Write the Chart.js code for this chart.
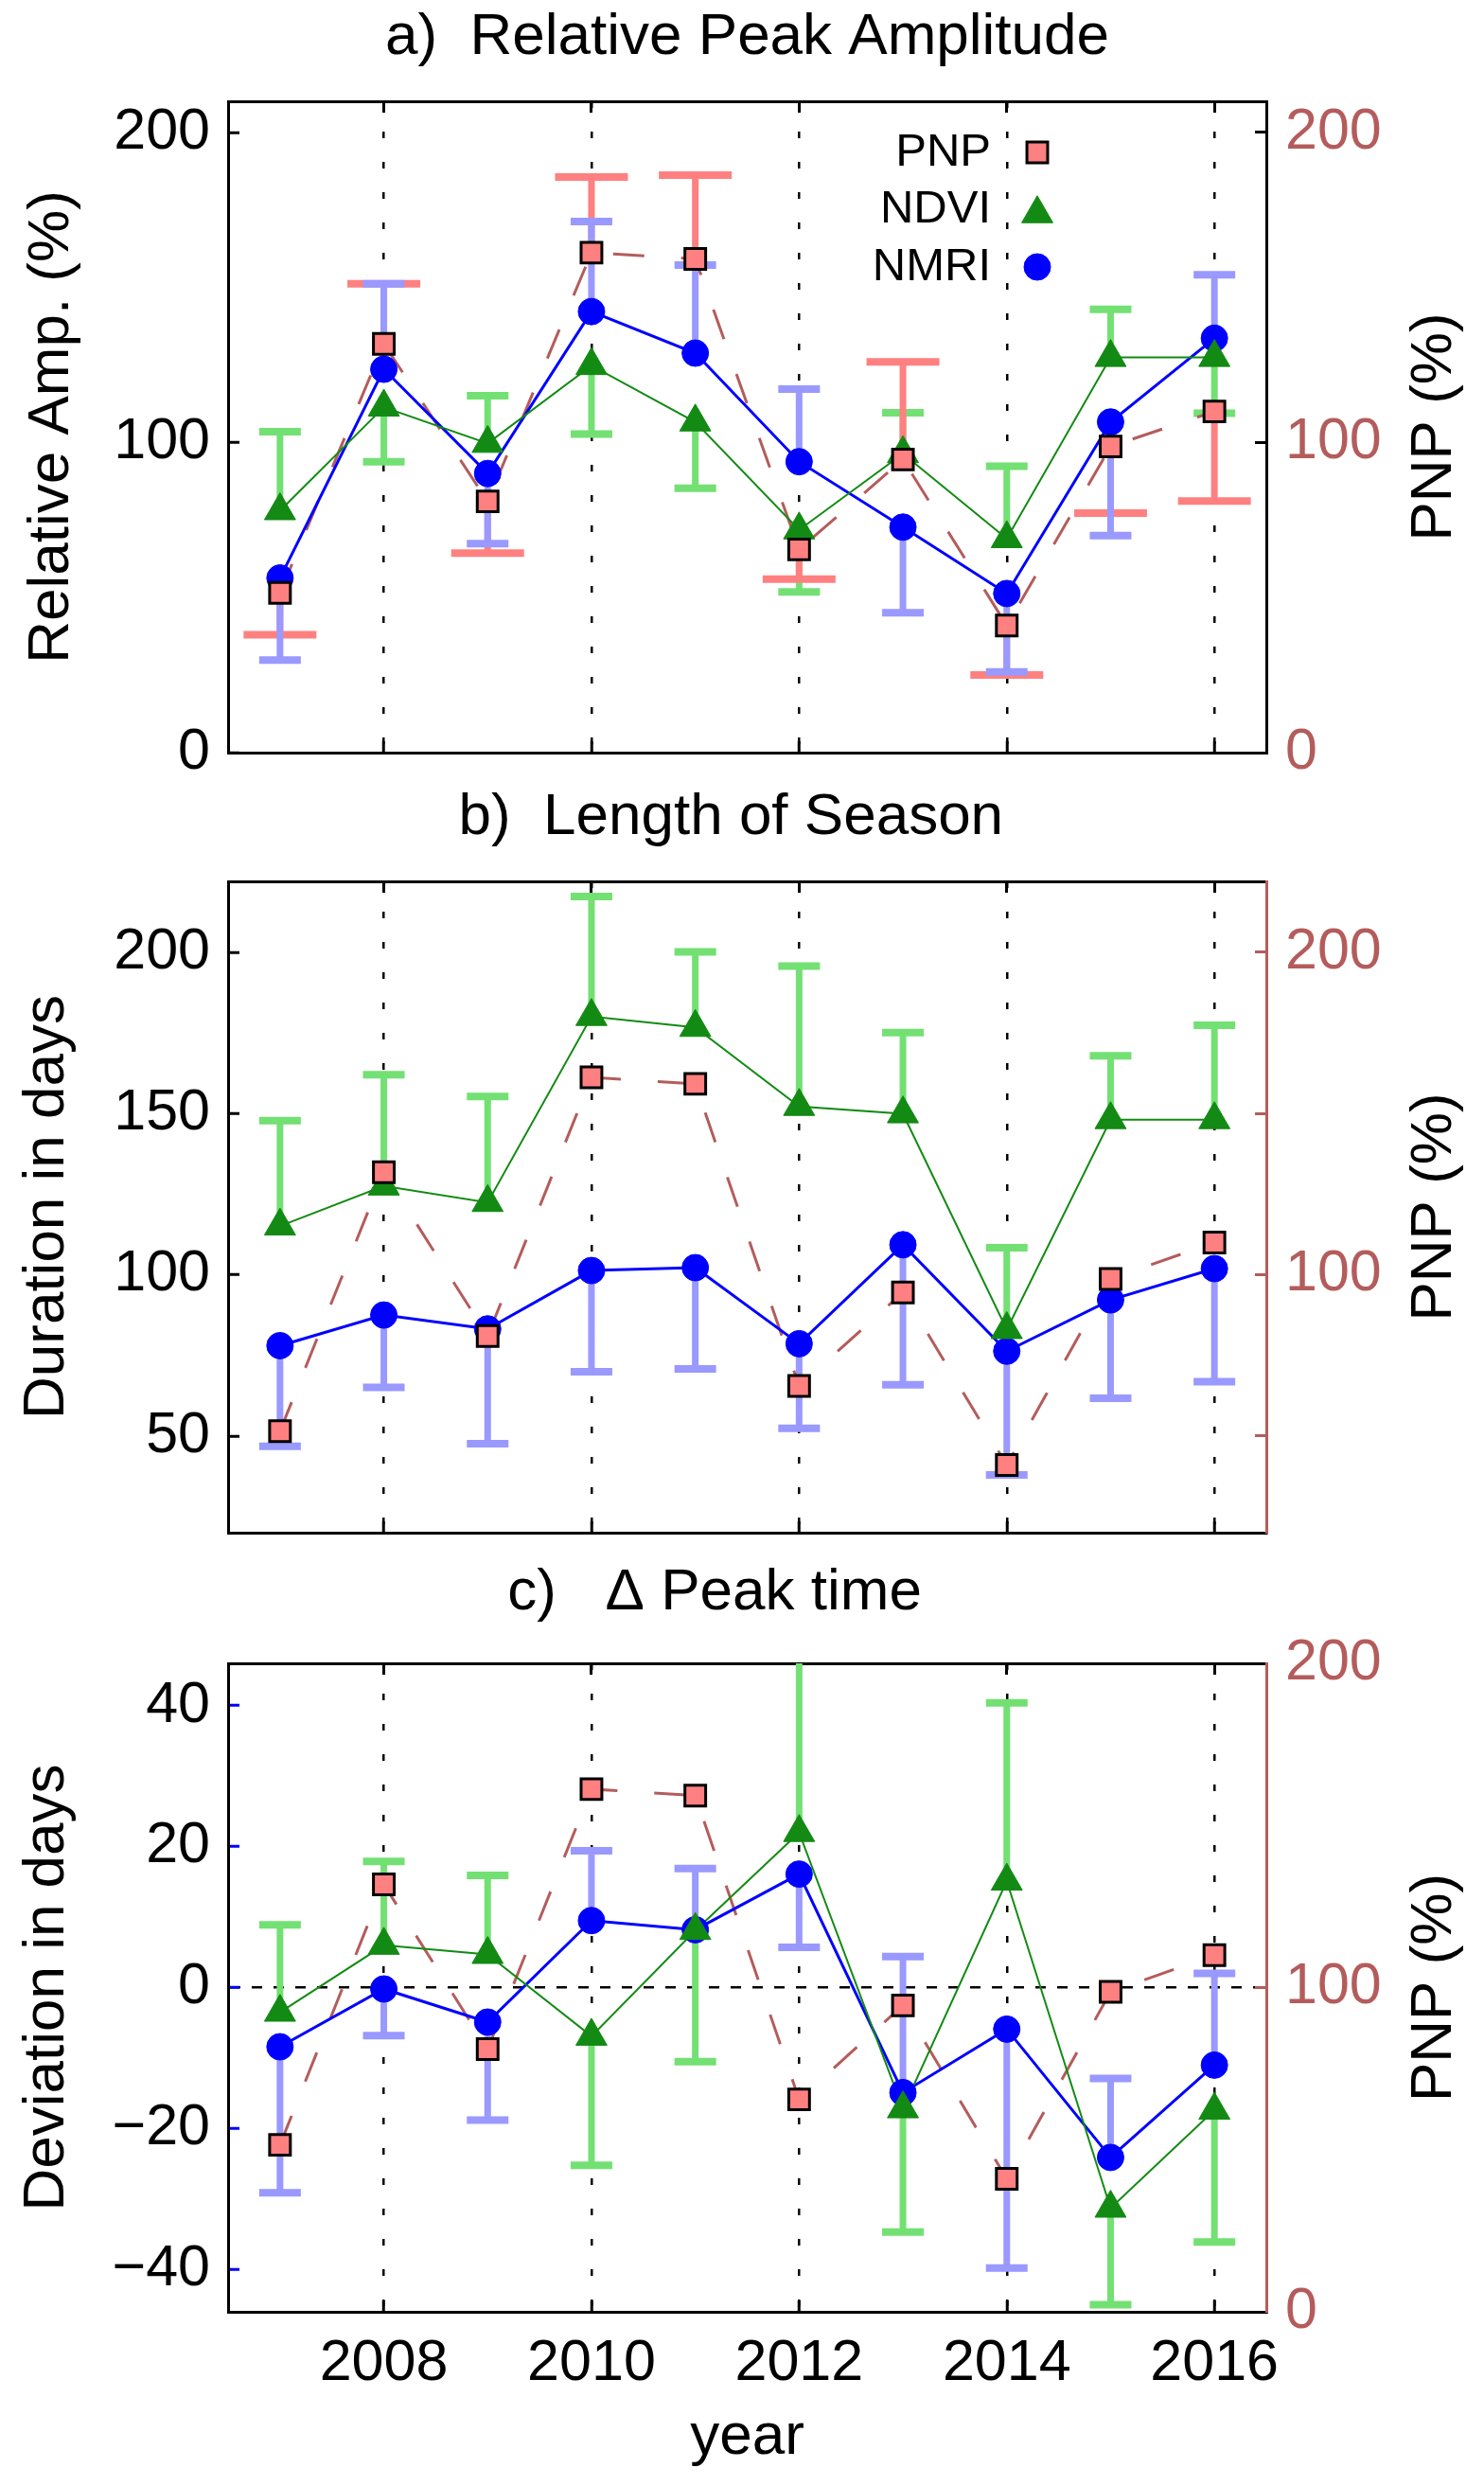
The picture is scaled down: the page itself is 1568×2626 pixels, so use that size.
<!DOCTYPE html>
<html>
<head>
<meta charset="utf-8">
<title>Peak amplitude, season length and peak time</title>
<script src="https://cdn.jsdelivr.net/npm/chart.js@4.4.1/dist/chart.umd.min.js"></script>
<style>
    html, body { margin: 0; padding: 0; background: #fff; }
    #wrap { position: relative; width: 1568px; height: 2626px; }
    canvas { position: absolute; left: 0; }
</style>
</head>
<body>
<div id="wrap">
    <canvas id="panelA" width="1568" height="826" style="top:0px"></canvas>
    <canvas id="panelB" width="1568" height="826" style="top:826px"></canvas>
    <canvas id="panelC" width="1568" height="974" style="top:1652px"></canvas>
</div>
<script>
// Years and x tick labels
const years = [2007, 2008, 2009, 2010, 2011, 2012, 2013, 2014, 2015, 2016];
const yearTicks = [2008, 2010, 2012, 2014, 2016];

// PNP (%) - same series in every panel, right axis
const pnp = [51.5, 131.8, 81.0, 161.2, 159.2, 65.5, 94.5, 41.0, 98.7, 110.0];
// one-sided error bar end points (panel a only)
const pnpErrA = [38.0, 151.2, 64.3, 185.6, 186.2, 55.9, 126.0, 25.0, 77.2, 81.1];

// a) Relative peak amplitude (%)
const amplNdvi = [78.0, 111.4, 99.7, 124.8, 106.6, 71.8, 96.4, 69.0, 127.4, 127.4];
const amplNdviErr = [103.5, 93.8, 115.1, 102.7, 85.2, 51.8, 109.6, 92.3, 142.9, 109.4];
const amplNmri = [56.3, 123.6, 90.0, 142.2, 128.8, 93.8, 72.7, 51.3, 106.6, 133.6];
const amplNmriErr = [29.8, 151.2, 67.4, 171.2, 157.2, 117.2, 45.1, 26.0, 70.0, 154.1];
const amplTicks = [0, 100, 200];
const amplPnpTicks = [0, 100, 200];

// b) Length of season (days)
const durNdvi = [115.1, 127.5, 122.4, 180.1, 176.7, 152.2, 149.9, 83.0, 148.1, 148.1];
const durNdviErr = [147.8, 162.0, 155.3, 217.3, 200.1, 195.7, 175.1, 108.4, 167.9, 177.4];
const durNmri = [78.0, 87.5, 83.2, 101.3, 102.2, 78.6, 109.3, 76.3, 92.2, 101.9];
const durNmriErr = [46.8, 65.1, 47.6, 69.9, 70.8, 52.4, 65.9, 37.9, 61.7, 66.8];
const durTicks = [50, 100, 150, 200];
const durPnpTicks = [50, 100, 150, 200];

// c) Delta peak time (days)
const devNdvi = [-3.5, 6.0, 4.7, -6.9, 8.1, 22.0, -17.2, 15.1, -31.3, -17.4];
const devNdviErr = [8.9, 17.9, 15.9, -25.2, -10.5, 55.0, -34.7, 40.4, -45.0, -36.1];
const devNmri = [-8.4, -0.2, -4.9, 9.5, 8.2, 16.1, -14.9, -5.9, -24.1, -11.0];
const devNmriErr = [-29.1, -6.8, -18.8, 19.4, 16.9, 5.7, 4.4, -39.8, -12.9, 2.0];
const devTicks = [-40, -20, 0, 20, 40];
const devPnpTicks = [0, 100, 200];

// Styling
const FONT = "'Liberation Sans', Arial, Helvetica, sans-serif";
const colors = {
    nmri: '#0000ff',
    nmriErr: '#9999ff',
    ndvi: '#138a13',
    ndviErr: '#73e073',
    pnpFill: '#ff8080',
    pnpErr: '#ff8080',
    pnpLine: '#b45c5c',
    pnpAxis: '#b45c5c'
};

Chart.defaults.font.family = FONT;
Chart.defaults.color = '#000';

// Helpers to turn the arrays into {x, y} points
function pts(values) {
    return years.map((x, i) => ({ x: x, y: values[i] }));
}

function stems(values, ends) {
    const out = [];
    years.forEach((x, i) => {
        out.push({ x: x, y: values[i] }, { x: x, y: ends[i] }, { x: x, y: null });
    });
    return out;
}

function fmt(v) {
    return v < 0 ? '\u2212' + Math.abs(v) : String(v);
}

function markerSet(values, style, radius, fill, stroke, bw, axis) {
    return {
        data: pts(values), yAxisID: axis, showLine: false,
        pointStyle: style, pointRadius: radius,
        pointBackgroundColor: fill, pointBorderColor: stroke, pointBorderWidth: bw
    };
}

function lineSet(values, color, width, dash, axis) {
    return {
        data: pts(values), yAxisID: axis, showLine: true,
        borderColor: color, borderWidth: width, borderDash: dash,
        pointRadius: 0, tension: 0
    };
}

// Error bar = caps (pointStyle 'line') + stems (broken line)
function errorBarSets(values, ends, color, capHalf, axis) {
    return [
        {
            data: pts(ends), yAxisID: axis, showLine: false,
            pointStyle: 'line', pointRadius: capHalf, pointBorderWidth: 8,
            pointBorderColor: color, pointBackgroundColor: color
        },
        {
            data: stems(values, ends), yAxisID: axis, showLine: true,
            borderColor: color, borderWidth: 7, borderCapStyle: 'butt',
            pointRadius: 0, spanGaps: false, clip: 0
        }
    ];
}

// First dataset is drawn on top
function buildDatasets(p) {
    const sets = [
        markerSet(pnp, 'rect', 15.5, colors.pnpFill, '#000', 3, 'y2'),
        markerSet(p.ndvi, 'triangle', 19, colors.ndvi, colors.ndvi, 1, 'y'),
        markerSet(p.nmri, 'circle', 14, colors.nmri, colors.nmri, 1, 'y'),
        lineSet(p.ndvi, colors.ndvi, 2, [], 'y'),
        lineSet(p.nmri, colors.nmri, 3, [], 'y'),
        lineSet(pnp, colors.pnpLine, 3, [33, 39], 'y2')
    ];
    sets.push(...errorBarSets(p.nmri, p.nmriErr, colors.nmriErr, 22, 'y'));
    if (p.pnpErr) sets.push(...errorBarSets(pnp, p.pnpErr, colors.pnpErr, 38.5, 'y2'));
    sets.push(...errorBarSets(p.ndvi, p.ndviErr, colors.ndviErr, 22, 'y'));
    return sets;
}

// Legend in panel a: text to the left of the marker
function drawLegend(chart) {
    const ctx = chart.ctx;
    const area = chart.chartArea;
    const items = [
        { label: 'PNP', style: 'rect', radius: 15.5, fill: colors.pnpFill, stroke: '#000', bw: 3, dy: 54 },
        { label: 'NDVI', style: 'triangle', radius: 19, fill: colors.ndvi, stroke: colors.ndvi, bw: 1, dy: 114 },
        { label: 'NMRI', style: 'circle', radius: 14, fill: colors.nmri, stroke: colors.nmri, bw: 1, dy: 175 }
    ];
    const textX = area.right - 291;
    const markX = area.right - 242;
    ctx.save();
    ctx.font = '49px ' + FONT;
    ctx.textAlign = 'right';
    ctx.textBaseline = 'middle';
    items.forEach(it => {
        const y = area.top + it.dy;
        ctx.fillStyle = '#000';
        ctx.fillText(it.label, textX, y);
        ctx.fillStyle = it.fill;
        ctx.strokeStyle = it.stroke;
        ctx.lineWidth = it.bw;
        const yy = it.style === 'triangle' ? y + it.radius / 4 : y;
        Chart.helpers.drawPoint(ctx, { pointStyle: it.style, radius: it.radius, borderWidth: it.bw, rotation: 0 }, markX, yy);
    });
    ctx.restore();
}

// Right axis title (reads bottom to top) and legend
const panelText = {
    id: 'panelText',
    afterDraw(chart, args, opts) {
        const ctx = chart.ctx;
        const area = chart.chartArea;
        ctx.save();
        ctx.font = '62px ' + FONT;
        ctx.fillStyle = '#000';
        ctx.textAlign = 'center';
        ctx.textBaseline = 'middle';
        ctx.translate(1516, (area.top + area.bottom) / 2);
        ctx.rotate(-Math.PI / 2);
        ctx.fillText('PNP (%)', 0, 0);
        ctx.restore();
        if (opts.legend) drawLegend(chart);
    }
};

function setTicks(list) {
    return scale => { scale.ticks = list.map(v => ({ value: v })); };
}

// Fixed axis widths; drop the label overhang so the plot box stays put
function fixWidth(w) {
    return scale => {
        scale.width = w;
        scale.paddingTop = 0;
        scale.paddingBottom = 0;
    };
}

// Build one panel
function makePanel(id, p) {
    const ctx = document.getElementById(id).getContext('2d');
    return new Chart(ctx, {
        type: 'line',
        data: { datasets: buildDatasets(p) },
        plugins: [panelText],
        options: {
            responsive: false,
            animation: false,
            devicePixelRatio: 1,
            events: [],
            layout: { padding: 0, autoPadding: false },
            plugins: {
                legend: { display: false },
                tooltip: { enabled: false },
                title: {
                    display: true, text: p.title, color: '#000', fullSize: false,
                    font: { size: 62, family: FONT, weight: 'normal', lineHeight: 1 },
                    padding: p.titlePad
                },
                panelText: { legend: !!p.legend }
            },
            scales: {
                x: {
                    type: 'linear', position: 'bottom', min: 2006.5, max: 2016.5,
                    afterBuildTicks: setTicks(yearTicks),
                    afterFit: s => { s.height = p.bottomHeight; },
                    ticks: {
                        display: !!p.showYears, autoSkip: false, maxRotation: 0, minRotation: 0,
                        padding: 31, color: '#000',
                        font: { size: 61, family: FONT, lineHeight: 1.2 },
                        callback: v => String(v)
                    },
                    grid: {
                        display: true, drawOnChartArea: true, color: '#000', lineWidth: 2.5,
                        drawTicks: true, tickLength: -12, tickWidth: 3, tickColor: '#000'
                    },
                    border: { display: true, color: '#000', width: 3, dash: [7, 25] },
                    title: {
                        display: !!p.showYears, text: 'year', color: '#000',
                        font: { size: 62, family: FONT, lineHeight: 1 },
                        padding: { top: 0, bottom: 20 }
                    }
                },
                x2: {
                    type: 'linear', position: 'top', min: 2006.5, max: 2016.5,
                    afterBuildTicks: setTicks(yearTicks),
                    afterFit: s => { s.height = 0; },
                    ticks: { display: false },
                    grid: {
                        display: true, drawOnChartArea: false, color: '#000',
                        tickLength: -12, tickWidth: 3, tickColor: '#000'
                    },
                    border: { display: true, color: '#000', width: 3 }
                },
                y: {
                    type: 'linear', position: 'left', min: p.yMin, max: p.yMax,
                    afterBuildTicks: setTicks(p.yTicks),
                    afterFit: fixWidth(241),
                    ticks: {
                        autoSkip: false, padding: 31, color: '#000',
                        font: { size: 61, family: FONT, lineHeight: 1 },
                        callback: v => fmt(v)
                    },
                    grid: {
                        display: true, drawOnChartArea: !!p.zeroLine, lineWidth: 2.5,
                        color: c => (p.zeroLine && c.tick && c.tick.value === 0) ? '#000' : 'rgba(0,0,0,0)',
                        tickLength: -12, tickWidth: 3, tickColor: p.leftTickColor
                    },
                    border: { display: true, color: '#000', width: 3, dash: [11, 12] },
                    title: {
                        display: true, text: p.yTitle, color: '#000',
                        font: { size: 62, family: FONT, lineHeight: 1 },
                        padding: p.yTitlePad
                    }
                },
                y2: {
                    type: 'linear', position: 'right', min: p.y2Min, max: p.y2Max,
                    afterBuildTicks: setTicks(p.y2Ticks),
                    afterFit: fixWidth(230),
                    ticks: {
                        autoSkip: false, padding: 32, color: colors.pnpAxis,
                        font: { size: 61, family: FONT, lineHeight: 1 },
                        callback: v => (v % 100 === 0 ? String(v) : '')
                    },
                    grid: {
                        display: true, drawOnChartArea: false, color: p.rightColor,
                        tickLength: -12, tickWidth: 3, tickColor: p.rightColor
                    },
                    border: { display: true, color: p.rightColor, width: 3 }
                }
            }
        }
    });
}

document.addEventListener('DOMContentLoaded', () => {
    makePanel('panelA', {
        title: 'a)  Relative Peak Amplitude', titlePad: { top: 9, bottom: 36 },
        yTitle: 'Relative Amp. (%)', yTitlePad: 24,
        yMin: 0, yMax: 210, yTicks: amplTicks,
        y2Min: 0, y2Max: 210, y2Ticks: amplPnpTicks,
        ndvi: amplNdvi, ndviErr: amplNdviErr, nmri: amplNmri, nmriErr: amplNmriErr, pnpErr: pnpErrA,
        bottomHeight: 31, showYears: false, legend: true,
        leftTickColor: '#000', rightColor: '#000', zeroLine: false
    });

    makePanel('panelB', {
        title: 'b)  Length of Season  ', titlePad: { top: 7, bottom: 36 },
        yTitle: 'Duration in days', yTitlePad: 19,
        yMin: 20, yMax: 222, yTicks: durTicks,
        y2Min: 20, y2Max: 222, y2Ticks: durPnpTicks,
        ndvi: durNdvi, ndviErr: durNdviErr, nmri: durNmri, nmriErr: durNmriErr, pnpErr: null,
        bottomHeight: 33, showYears: false, legend: false,
        leftTickColor: '#000', rightColor: colors.pnpAxis, zeroLine: false
    });

    makePanel('panelC', {
        title: 'c)   \u0394 Peak time    ', titlePad: { top: 0, bottom: 43 },
        yTitle: 'Deviation in days', yTitlePad: 19,
        yMin: -46, yMax: 46, yTicks: devTicks,
        y2Min: 0, y2Max: 200, y2Ticks: devPnpTicks,
        ndvi: devNdvi, ndviErr: devNdviErr, nmri: devNmri, nmriErr: devNmriErr, pnpErr: null,
        bottomHeight: 184, showYears: true, legend: false,
        leftTickColor: '#0000ff', rightColor: colors.pnpAxis, zeroLine: true
    });
});
</script>
</body>
</html>
